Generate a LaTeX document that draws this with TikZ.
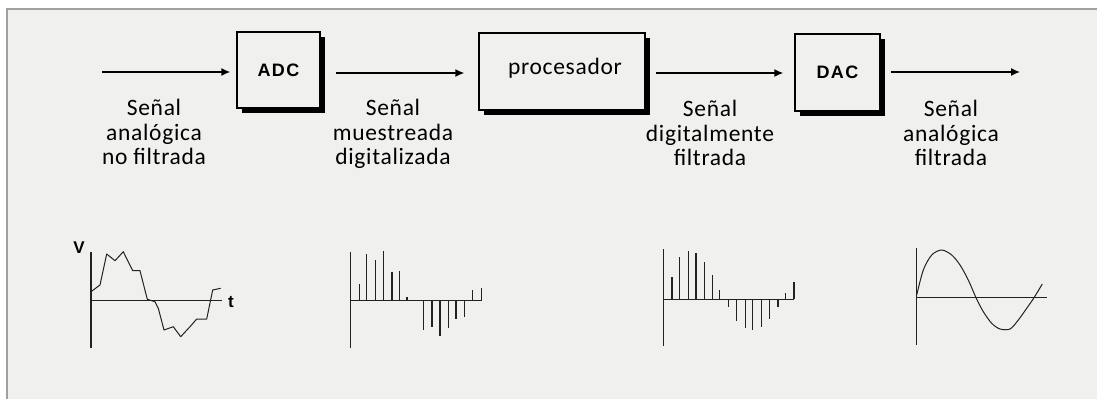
\documentclass[tikz,border=0pt]{standalone}
\usepackage{fontspec}
\setmainfont{Carlito}
\newfontfamily\labelfont[LetterSpace=3]{Carlito}
\newfontfamily\boxfont[LetterSpace=8]{Liberation Sans}
\newfontfamily\axisfont{Liberation Sans}
\usetikzlibrary{arrows.meta,shadows}
\definecolor{panel}{HTML}{F0F0EF}
\definecolor{rim}{HTML}{A0A0A0}
\definecolor{ink}{HTML}{222222}
\tikzset{
  blockbox/.style={draw=black, line width=1.4pt, fill=panel, inner sep=0pt,
    drop shadow={shadow xshift=5pt, shadow yshift=-5pt, fill=black, opacity=1}},
  sigarrow/.style={draw=black, line width=1.4pt, -{Latex[length=9pt,width=8pt]}},
  siglabel/.style={align=center, font=\labelfont\fontsize{23.5}{24.5}\selectfont, text=black, inner sep=0pt},
  axislabel/.style={font=\axisfont\fontsize{17}{18}\selectfont\bfseries, inner sep=0pt},
  axis/.style={draw=ink, line width=1.4pt},
  stem/.style={draw=ink, line width=1.4pt},
  wave/.style={draw=ink, line width=1pt, line join=round},
}
\begin{document}
\begin{tikzpicture}[x=1pt, y=-1pt]
  \useasboundingbox (0,0) rectangle (1097,399);
  % panel with its frame on the top and left
  \fill[white] (0,0) rectangle (1097,399);
  \fill[panel] (7,9) rectangle (1097,399);
  \draw[rim, line width=1.2pt] (7,399) -- (7,9) -- (1097,9);

  % processing chain
  \node[blockbox, minimum width=83pt, minimum height=76pt] (adc) at (278.5,70)
    {\boxfont\fontsize{18}{20}\selectfont\bfseries ADC};
  \node[blockbox, minimum width=166pt, minimum height=77pt] (proc) at (562,71.5) {};
  \node[font=\labelfont\fontsize{23.5}{24.5}\selectfont, inner sep=0pt] (proctext) at (565,68) {procesador};
  \node[blockbox, minimum width=85pt, minimum height=77pt] (dac) at (837.5,72.5)
    {\boxfont\fontsize{18}{20}\selectfont\bfseries DAC};

  \coordinate (in) at (102,72);
  \coordinate (out) at (1020,72);
  \draw[sigarrow] (in) -- ([xshift=-6pt]adc.west |- in);
  \draw[sigarrow] ([xshift=15pt]adc.east |- 0,73) -- ([xshift=-14pt]proc.west |- 0,73);
  \draw[sigarrow] ([xshift=10pt]proc.east |- 0,73) -- ([xshift=-11pt]dac.west |- 0,73);
  \draw[sigarrow] ([xshift=10pt]dac.east |- out) -- (out);

  % signal names
  \node[siglabel] (l1) at (154,132) {Señal\\analógica\\no filtrada};
  \node[siglabel] (l2) at (393,134) {Señal\\muestreada\\digitalizada};
  \node[siglabel] (l3) at (710,133) {Señal\\digitalmente\\filtrada};
  \node[siglabel] (l4) at (951,133) {Señal\\analógica\\filtrada};

  % unfiltered analogue signal
  \draw[axis] (91,252) -- (91,348);
  \draw[axis] (91,300.7) -- (222,300.7);
  \node[axislabel] (vlab) at (79,248) {V};
  \node[axislabel] (tlab) at (231,302) {t};
  \draw[wave] (91,291.7) -- (100,285) -- (106.7,254) -- (115,260.7) -- (123.3,251.7)
    -- (132.7,270.7) -- (140,270.7) -- (147.3,299.3) -- (155,301.7) -- (158.3,308.3)
    -- (164,330) -- (173.3,326.7) -- (180.7,336.7) -- (190,326.7) -- (196.7,319)
    -- (206.7,319) -- (212.7,290) -- (220.7,288.3);

  % sampled, digitised signal
  \draw[axis] (350.7,252) -- (350.7,348);
  \draw[axis] (350.7,300.7) -- (481.3,300.7);
  \foreach \x/\y in {359.3/284, 366.7/254, 375.3/260, 383.3/251, 392/271.7, 399.3/270.7,
      407/297.3, 423.3/330, 432/327.3, 440/336, 448.7/328.3, 456/319.3, 464.7/316.7,
      472.3/290, 481.3/288.3}
    \draw[stem] (\x,300.7) -- (\x,\y);

  % digitally filtered signal
  \draw[axis] (663.3,249.3) -- (663.3,346);
  \draw[axis] (663.3,299.3) -- (794,299.3);
  \foreach \x/\y in {672/276.7, 679.7/257.3, 688.7/251, 696/252.7, 704.7/261.7, 712.3/275,
      719.7/290, 728.7/307.3, 736.7/321, 745.3/328.3, 752.7/330, 761.3/327.3,
      769.3/319.3, 778/307.3, 785.3/292.7, 794/282.3}
    \draw[stem] (\x,299.3) -- (\x,\y);

  % filtered analogue signal
  \draw[axis] (916.7,248.3) -- (916.7,345);
  \draw[axis] (916.7,297.7) -- (1046.7,297.7);
  \draw[wave] plot[smooth, tension=0.5] coordinates {(916.7,295) (923.3,270) (931.7,255)
    (941.7,250) (951.7,255) (960,265) (968.3,280) (976,297.7) (983.3,311.7)
    (991.7,323.3) (1000,329) (1010,329) (1018.3,320) (1026.7,308.3) (1034,297.7)
    (1042.3,284)};
\end{tikzpicture}
\end{document}
